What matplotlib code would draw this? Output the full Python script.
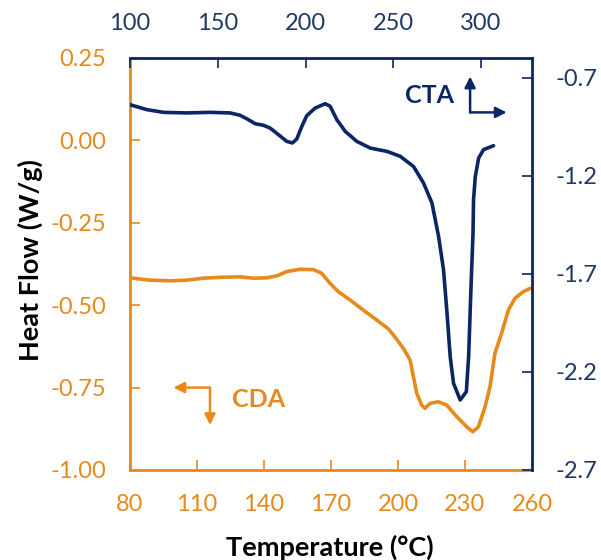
import matplotlib
matplotlib.use('Agg')
from matplotlib import pyplot as plt

plt.rcParams['font.family'] = ['Lato', 'DejaVu Sans']
plt.rcParams['axes.unicode_minus'] = False

ORANGE = '#E8891C'
NAVY = '#0B2565'

# CDA curve: bottom axis (°C) / left axis (W/g)
cda_temp = [80, 89.0, 97.9, 105.4, 112.8, 121.8, 129.3, 135.2, 141.2, 145.7, 150.2, 156.1,
            162.1, 165.8, 169.6, 173.3, 178.5, 184.5, 190.5, 195.7, 197.9, 202.4, 205.4,
            206.9, 208.4, 210.6, 212.1, 214.3, 218.0, 221.8, 226.3, 230.8, 233.5, 236.0,
            239.0, 241.2, 243.4, 246.4, 249.4, 252.4, 256.1, 259.1]
cda_flow = [-0.417, -0.424, -0.426, -0.424, -0.418, -0.415, -0.414, -0.418, -0.417, -0.411,
            -0.398, -0.391, -0.392, -0.403, -0.434, -0.459, -0.484, -0.515, -0.545, -0.572,
            -0.590, -0.631, -0.666, -0.717, -0.767, -0.803, -0.813, -0.798, -0.793, -0.803,
            -0.838, -0.869, -0.884, -0.869, -0.808, -0.747, -0.646, -0.585, -0.515, -0.479,
            -0.459, -0.449]

# CTA curve: top axis / right axis
cta_temp = [100, 109.5, 119.0, 132.3, 145.6, 157.0, 162.7, 167.4, 171.3, 176.0, 179.8,
            184.6, 189.3, 192.5, 195.0, 197.9, 200.7, 205.5, 211.2, 214.0, 217.8, 222.6,
            229.2, 236.8, 246.4, 253.9, 261.5, 267.2, 272.0, 275.8, 278.6, 280.6, 282.4,
            284.3, 288.1, 291.6, 292.9, 294.2, 295.4, 295.7, 296.7, 298.6, 301.4, 307.1]
cta_flow = [-0.838, -0.863, -0.877, -0.880, -0.877, -0.880, -0.892, -0.914, -0.935, -0.943,
            -0.957, -0.991, -1.025, -1.033, -1.013, -0.948, -0.894, -0.855, -0.833, -0.846,
            -0.914, -0.974, -1.025, -1.059, -1.076, -1.101, -1.153, -1.237, -1.339, -1.510,
            -1.680, -1.901, -2.122, -2.258, -2.343, -2.301, -2.122, -1.782, -1.492, -1.322,
            -1.204, -1.110, -1.067, -1.047]

bottom_ticks = [80, 110, 140, 170, 200, 230, 260]
left_ticks = [-1.00, -0.75, -0.50, -0.25, 0.00, 0.25]
top_ticks = [100, 150, 200, 250, 300]
right_ticks = [-2.7, -2.2, -1.7, -1.2, -0.7]

fig = plt.figure(figsize=(6.01, 5.6), dpi=100)
rect = [130 / 601, 90 / 560, 402 / 601, 412 / 560]
ax = fig.add_axes(rect)
ax2 = fig.add_axes(rect, label='cta', facecolor='none')

ax.plot(cda_temp, cda_flow, color=ORANGE, lw=2.6, solid_joinstyle='round',
        solid_capstyle='round')
ax.set_xlim(80, 260)
ax.set_ylim(-1.0, 0.25)
ax.set_xticks(bottom_ticks)
ax.set_yticks(left_ticks)
ax.set_yticklabels([f'{v:.2f}' for v in left_ticks])
ax.tick_params(direction='in', length=7, width=1.2, colors=ORANGE, labelsize=17, pad=17)
ax.spines['top'].set_visible(False)
ax.spines['right'].set_visible(False)
for s in ('left', 'bottom'):
    ax.spines[s].set_color(ORANGE)
    ax.spines[s].set_linewidth(2)

ax2.plot(cta_temp, cta_flow, color=NAVY, lw=2.6, solid_joinstyle='round',
         solid_capstyle='round')
ax2.set_xlim(100, 329)
ax2.set_ylim(-2.7, -0.6)
ax2.xaxis.tick_top()
ax2.yaxis.tick_right()
ax2.set_xticks(top_ticks)
ax2.set_yticks(right_ticks)
ax2.tick_params(direction='in', length=7, width=1.2, colors=NAVY, labelsize=17, pad=17)
ax2.tick_params(labelcolor='#1F3864')
ax2.spines['bottom'].set_visible(False)
ax2.spines['left'].set_visible(False)
for s in ('top', 'right'):
    ax2.spines[s].set_color(NAVY)
    ax2.spines[s].set_linewidth(2)

fig.text(30 / 601, 1 - 260 / 560, 'Heat Flow (W/g)', rotation=90, ha='center', va='center',
         fontsize=19.5, fontweight='bold', color='black')
fig.text(330 / 601, 1 - 547 / 560, 'Temperature (°C)', ha='center', va='center',
         fontsize=19.5, fontweight='bold', color='black')

# series labels with axis-direction arrows
ax2.text(0.746, 0.910, 'CTA', transform=ax2.transAxes, ha='center', va='center',
         fontsize=18, fontweight='bold', color=NAVY)
arrow_kw = dict(arrowstyle='-|>', lw=1.8, mutation_scale=16, shrinkA=0, shrinkB=0)
ax2.annotate('', xy=(0.846, 0.955), xytext=(0.846, 0.868), xycoords='axes fraction',
             arrowprops=dict(color=NAVY, **arrow_kw))
ax2.annotate('', xy=(0.937, 0.868), xytext=(0.846, 0.868), xycoords='axes fraction',
             arrowprops=dict(color=NAVY, **arrow_kw))

ax2.text(0.319, 0.170, 'CDA', transform=ax2.transAxes, ha='center', va='center',
         fontsize=18, fontweight='bold', color=ORANGE)
ax2.annotate('', xy=(0.108, 0.200), xytext=(0.199, 0.200), xycoords='axes fraction',
             arrowprops=dict(color=ORANGE, **arrow_kw))
ax2.annotate('', xy=(0.199, 0.109), xytext=(0.199, 0.200), xycoords='axes fraction',
             arrowprops=dict(color=ORANGE, **arrow_kw))

fig.savefig('out.png', dpi=100)
